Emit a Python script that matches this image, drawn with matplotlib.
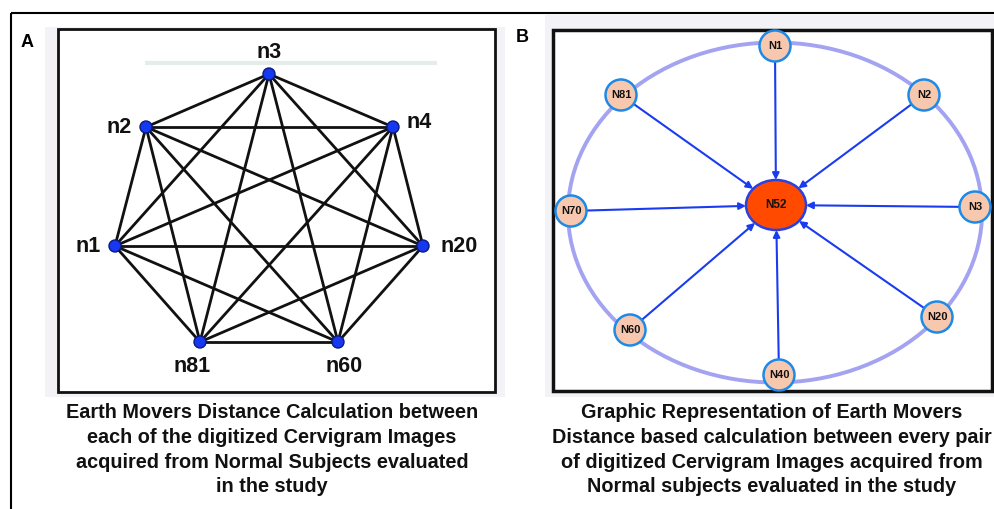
import numpy as np
import matplotlib
matplotlib.use("Agg")
import matplotlib.pyplot as plt
from matplotlib.patches import Circle, Ellipse, Rectangle, FancyArrowPatch

# ---------------- data ----------------
# Panel A: complete graph nodes (pixel positions)
a_names = ["n3", "n2", "n4", "n1", "n20", "n81", "n60"]
a_x = [269, 146, 393, 115, 423, 200, 338]
a_y = [74, 127, 127, 246, 246, 342, 342]
a_label_x = [269, 119, 419, 88, 459, 192, 344]
a_label_y = [52, 127, 122, 246, 246, 366, 366]

# Panel B: star graph, outer nodes point to hub N52
b_names = ["N1", "N2", "N3", "N20", "N40", "N60", "N70", "N81"]
b_x = [775, 924, 975, 937, 779, 630, 571, 621]
b_y = [46, 95, 207, 317, 375, 330, 211, 95]
hub_name = "N52"
hub_x, hub_y = 776, 205

caption_a = ["Earth Movers Distance Calculation between",
             "each of the digitized Cervigram Images",
             "acquired from Normal Subjects evaluated",
             "in the study"]
caption_b = ["Graphic Representation of Earth Movers",
             "Distance based calculation between every pair",
             "of digitized Cervigram Images acquired from",
             "Normal subjects evaluated in the study"]

FONT = ["Liberation Sans", "DejaVu Sans"]

W, H = 995, 509
fig = plt.figure(figsize=(W / 100, H / 100), dpi=100)
ax = fig.add_axes([0, 0, 1, 1])
ax.set_xlim(0, W)
ax.set_ylim(H, 0)
ax.axis("off")

# outer frame (top and left lines)
ax.plot([11, W], [13, 13], color="black", lw=1.5, solid_capstyle="butt")
ax.plot([11, 11], [13, H], color="black", lw=1.5, solid_capstyle="butt")

# ---------------- Panel A ----------------
ax.add_patch(Rectangle((45, 27), 460, 370, facecolor="#f3f3f7", edgecolor="none", zorder=0))
ax.add_patch(Rectangle((58, 29), 437, 363, facecolor="white", edgecolor="#111111", lw=2, zorder=1))
ax.plot([145, 437], [63, 63], color="#e4ecee", lw=3, zorder=2, solid_capstyle="butt")
ax.text(27, 42, "A", fontsize=13, fontweight="bold", family=FONT, ha="center", va="center")

n = len(a_names)
for i in range(n):
    for j in range(i + 1, n):
        ax.plot([a_x[i], a_x[j]], [a_y[i], a_y[j]], color="#111111", lw=2, zorder=3)
for i in range(n):
    ax.add_patch(Circle((a_x[i], a_y[i]), 6, facecolor="#1638f0", edgecolor="#0a1a80", lw=1, zorder=4))
    ax.text(a_label_x[i], a_label_y[i], a_names[i], fontsize=15.5, fontweight="bold", family=FONT,
            ha="center", va="center", color="#111111", zorder=5)

for k, line in enumerate(caption_a):
    ax.text(272, 413 + k * 24.5, line, fontsize=14.3, fontweight="bold", family=FONT,
            ha="center", va="center", color="#111111")

# ---------------- Panel B ----------------
ax.add_patch(Rectangle((545, 15), 450, 382, facecolor="#f3f3f7", edgecolor="none", zorder=0))
ax.add_patch(Rectangle((553, 30), 439, 361, facecolor="white", edgecolor="#111111", lw=2.5, zorder=1))
ax.text(522, 37, "B", fontsize=13, fontweight="bold", family=FONT, ha="center", va="center")

ax.add_patch(Ellipse((775, 212.5), 414, 340, facecolor="none", edgecolor="#a3a3f2", lw=2.8, zorder=2))

r_small = 15.5
hub_w, hub_h = 60, 50
for name, x, y in zip(b_names, b_x, b_y):
    dx, dy = hub_x - x, hub_y - y
    d = np.hypot(dx, dy)
    ux, uy = dx / d, dy / d
    sx, sy = x + ux * r_small, y + uy * r_small
    t = 1.0 / np.sqrt((ux / (hub_w / 2)) ** 2 + (uy / (hub_h / 2)) ** 2)
    ex, ey = hub_x - ux * t, hub_y - uy * t
    arr = FancyArrowPatch((sx, sy), (ex, ey), arrowstyle="-|>,head_length=4,head_width=2",
                          color="#1a3cf0", lw=1.5, shrinkA=0, shrinkB=0, zorder=3)
    ax.add_patch(arr)
    ax.add_patch(Circle((x, y), r_small, facecolor="#f8c8ae", edgecolor="#1e8ae6", lw=1.8, zorder=4))
    ax.text(x, y, name, fontsize=8, fontweight="bold", family=FONT, ha="center", va="center",
            color="#111111", zorder=5)

ax.add_patch(Ellipse((hub_x, hub_y), hub_w, hub_h, facecolor="#ff4a00", edgecolor="#2a40e0", lw=1.8, zorder=4))
ax.text(hub_x, hub_y, hub_name, fontsize=8.5, fontweight="bold", family=FONT, ha="center", va="center",
        color="#111111", zorder=5)

for k, line in enumerate(caption_b):
    ax.text(772, 413 + k * 24.5, line, fontsize=14.3, fontweight="bold", family=FONT,
            ha="center", va="center", color="#111111")

fig.savefig("out.png", dpi=100)
